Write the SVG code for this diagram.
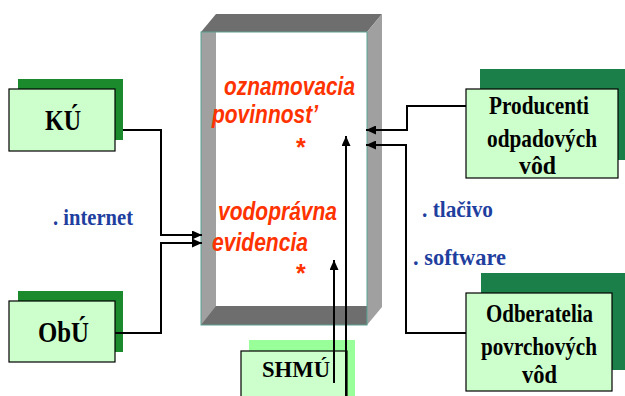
<svg xmlns="http://www.w3.org/2000/svg" width="625" height="396" viewBox="0 0 625 396">
<style>
.box{fill:#ccffcc;stroke:#000;stroke-width:1.2}
.sh1{fill:#1a8a2c}
.sh2{fill:#1b7f4a}
.sh3{fill:#99ff99}
.lbl{font-family:"Liberation Serif","Times New Roman",serif;font-weight:bold;fill:#000}
.blue{font-family:"Liberation Serif","Times New Roman",serif;font-weight:bold;fill:#1f3f9f;font-size:24px}
.red{font-family:"Liberation Sans",Arial,sans-serif;font-weight:bold;font-style:italic;fill:#ff3300;font-size:26px}
.ast{font-family:"Liberation Sans",Arial,sans-serif;font-weight:bold;fill:#ff3300;font-size:25px}
.conn{fill:none;stroke:#000;stroke-width:2}
</style>
<defs>
<marker id="ah" markerUnits="userSpaceOnUse" markerWidth="11" markerHeight="9" refX="10" refY="4.5" orient="auto">
<path d="M0,0 L10,4.5 L0,9 z" fill="#000"/>
</marker>
</defs>
<rect width="625" height="396" fill="#fff"/>

<g id="center">
<rect x="216" y="32" width="151" height="274" fill="#fff"/>
<rect x="201" y="32" width="15" height="293" fill="#a0a0a0"/>
<polygon points="201,325 216,306 367,306 367,325" fill="#6e6e6e"/>
<polygon points="201,32 216,14 382,14 367,32" fill="#6e6e6e"/>
<polygon points="367,32 382,14 382,307 367,325" fill="#a0a0a0"/>
<rect x="201" y="32" width="166" height="293" fill="none" stroke="#5aa090" stroke-width="1"/>
<text class="red" x="224" y="95" textLength="131" lengthAdjust="spacingAndGlyphs">oznamovacia</text>
<text class="red" x="212" y="123" textLength="106" lengthAdjust="spacingAndGlyphs">povinnost’</text>
<text class="ast" x="296" y="156">*</text>
<text class="red" x="218" y="220" textLength="119" lengthAdjust="spacingAndGlyphs">vodoprávna</text>
<text class="red" x="212" y="251" textLength="96" lengthAdjust="spacingAndGlyphs">evidencia</text>
<text class="ast" x="296" y="282">*</text>
</g>

<g id="ku">
<rect class="sh1" x="18" y="79" width="105" height="61"/>
<rect class="box" x="9" y="89" width="106" height="62"/>
<text class="lbl" x="45" y="130" font-size="30" textLength="36" lengthAdjust="spacingAndGlyphs">KÚ</text>
</g>

<g id="obu">
<rect class="sh1" x="18" y="291" width="105" height="61"/>
<rect class="box" x="9" y="301" width="106" height="61"/>
<text class="lbl" x="38" y="342" font-size="30" textLength="51" lengthAdjust="spacingAndGlyphs">ObÚ</text>
</g>

<g id="shmu">
<rect class="sh3" x="249" y="340" width="106" height="60"/>
<rect class="box" x="241" y="351" width="106" height="50"/>
<text class="lbl" x="262" y="377" font-size="24" textLength="68" lengthAdjust="spacingAndGlyphs">SHMÚ</text>
</g>

<g id="producenti">
<rect class="sh2" x="480" y="69" width="145" height="91"/>
<rect class="box" x="466" y="89" width="152" height="89"/>
<text class="lbl" x="489" y="114" font-size="26" textLength="100" lengthAdjust="spacingAndGlyphs">Producenti</text>
<text class="lbl" x="487" y="147" font-size="26" textLength="110" lengthAdjust="spacingAndGlyphs">odpadových</text>
<text class="lbl" x="519" y="174" font-size="26" textLength="37" lengthAdjust="spacingAndGlyphs">vôd</text>
</g>

<g id="odberatelia">
<rect class="sh2" x="481" y="273" width="144" height="97"/>
<rect class="box" x="466" y="293" width="146" height="98"/>
<text class="lbl" x="486" y="322" font-size="26" textLength="107" lengthAdjust="spacingAndGlyphs">Odberatelia</text>
<text class="lbl" x="481" y="355" font-size="26" textLength="116" lengthAdjust="spacingAndGlyphs">povrchových</text>
<text class="lbl" x="522" y="383" font-size="26" textLength="35" lengthAdjust="spacingAndGlyphs">vôd</text>
</g>

<g id="labels">
<text class="blue" x="53" y="225" textLength="80" lengthAdjust="spacingAndGlyphs">. internet</text>
<text class="blue" x="422" y="217" textLength="71" lengthAdjust="spacingAndGlyphs">. tlačivo</text>
<text class="blue" x="413" y="265" textLength="93" lengthAdjust="spacingAndGlyphs">.  software</text>
</g>

<g id="connectors">
<path class="conn" d="M123,130 H161 V235 H202" marker-end="url(#ah)"/>
<path class="conn" d="M115,333 H161 V243 H202" marker-end="url(#ah)"/>
<path class="conn" d="M466,106 H407 V130 H366" marker-end="url(#ah)"/>
<path class="conn" d="M466,333 H406 V145 H366" marker-end="url(#ah)"/>
<path class="conn" d="M334,383 V260" marker-end="url(#ah)"/>
<path class="conn" d="M346,396 V136" marker-end="url(#ah)"/>
</g>
</svg>
